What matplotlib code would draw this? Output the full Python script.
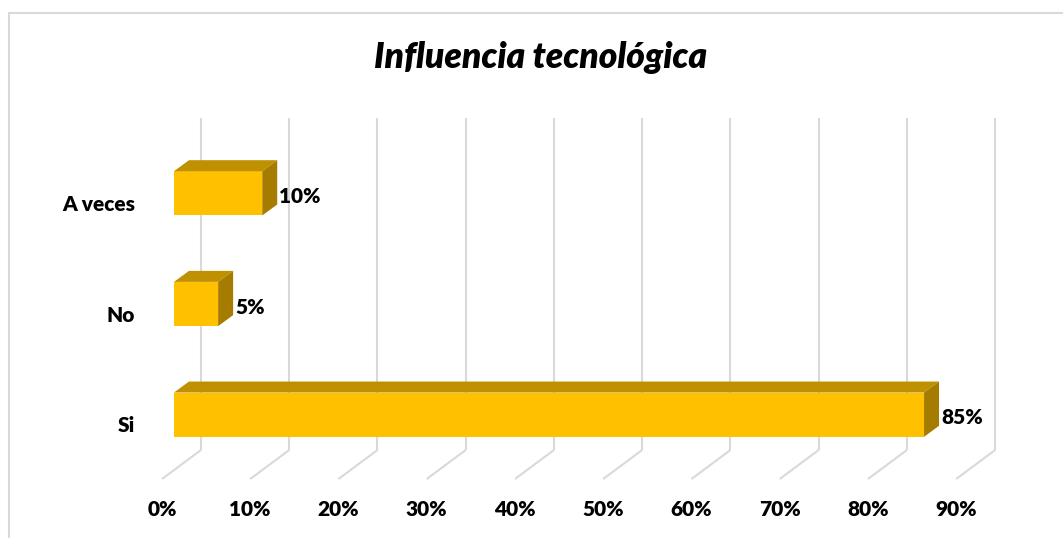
import matplotlib
matplotlib.use('Agg')
import matplotlib.pyplot as plt
from matplotlib.patches import Polygon, Rectangle

# ---- data ----
categories = ['Si', 'No', 'A veces']
values = [85, 5, 10]
tick_values = [0, 10, 20, 30, 40, 50, 60, 70, 80, 90]
tick_labels = ['0%', '10%', '20%', '30%', '40%', '50%', '60%', '70%', '80%', '90%']
title = 'Influencia tecnológica'

plt.rcParams['font.family'] = ['Lato', 'DejaVu Sans']
WEIGHT = 'heavy'

W, H = 1063, 538
fig = plt.figure(figsize=(W / 100, H / 100), dpi=100)
fig.patch.set_facecolor('white')

# chart border (only top/left visible in the crop)
fig.patches.append(Rectangle((9 / W, -0.1), 1.2, (1 - 13 / H) + 0.1,
                             transform=fig.transFigure, fill=False,
                             edgecolor='#D9D9D9', lw=1.5))

# axes = front plane of the bars
PX = 8.824           # pixels per percent
x_left, y_top, y_bot = 174, 138, 470
ax = fig.add_axes([x_left / W, 1 - y_bot / H, PX * 90 / W, (y_bot - y_top) / H])
ax.set_xlim(0, 90)
ax.set_ylim(-0.5, 2.5)
ax.axis('off')
PY = (y_bot - y_top) / 3.0


def off(px, py):
    return px / PX, py / PY


bx, by = off(27, 20)     # back wall
fx, fy = off(-12, -9)    # floor front edge
dx, dy = off(15, 11)     # bar depth

grid_c = '#D9D9D9'
for v in tick_values:
    ax.plot([v + bx, v + bx], [-0.5 + by, 2.5 + by], color=grid_c, lw=1.5,
            clip_on=False, zorder=1, solid_capstyle='butt')
    ax.plot([v + bx, v + fx], [-0.5 + by, -0.5 + fy], color=grid_c, lw=1.5,
            clip_on=False, zorder=1, solid_capstyle='butt')

front_c, top_c, side_c = '#FFC000', '#BF9000', '#A67C00'
bh = 0.40
ypos = list(range(len(categories)))
ax.barh(ypos, values, height=bh, color=front_c, zorder=3, clip_on=False)
for c, v in zip(ypos, values):
    t, b = c + bh / 2, c - bh / 2
    ax.add_patch(Polygon([(0, t), (v, t), (v + dx, t + dy), (dx, t + dy)],
                         closed=True, facecolor=top_c, edgecolor='none',
                         zorder=3, clip_on=False))
    ax.add_patch(Polygon([(v, t), (v + dx, t + dy), (v + dx, b + dy), (v, b)],
                         closed=True, facecolor=side_c, edgecolor='none',
                         zorder=3, clip_on=False))
    ax.text(v + dx + 2 / PX, c - 3 / PY, f'{v}%', ha='left', va='center',
            fontsize=15, fontweight=WEIGHT, color='black', zorder=4)

# category labels
for c, name in zip(ypos, categories):
    ax.text((135 - x_left) / PX, c - 11 / PY, name, ha='right', va='center',
            fontsize=15, fontweight=WEIGHT, color='black')

# value axis labels (front floor edge)
for v, lab in zip(tick_values, tick_labels):
    ax.text(v + fx, -0.5 + fy - 31 / PY, lab, ha='center', va='center',
            fontsize=15, fontweight=WEIGHT, color='black')

fig.text(541 / W, 1 - 68 / H, title, ha='center', va='baseline',
         fontsize=25.5, fontweight=WEIGHT, fontstyle='italic', color='black')

fig.savefig('out.png', dpi=100, facecolor='white')
